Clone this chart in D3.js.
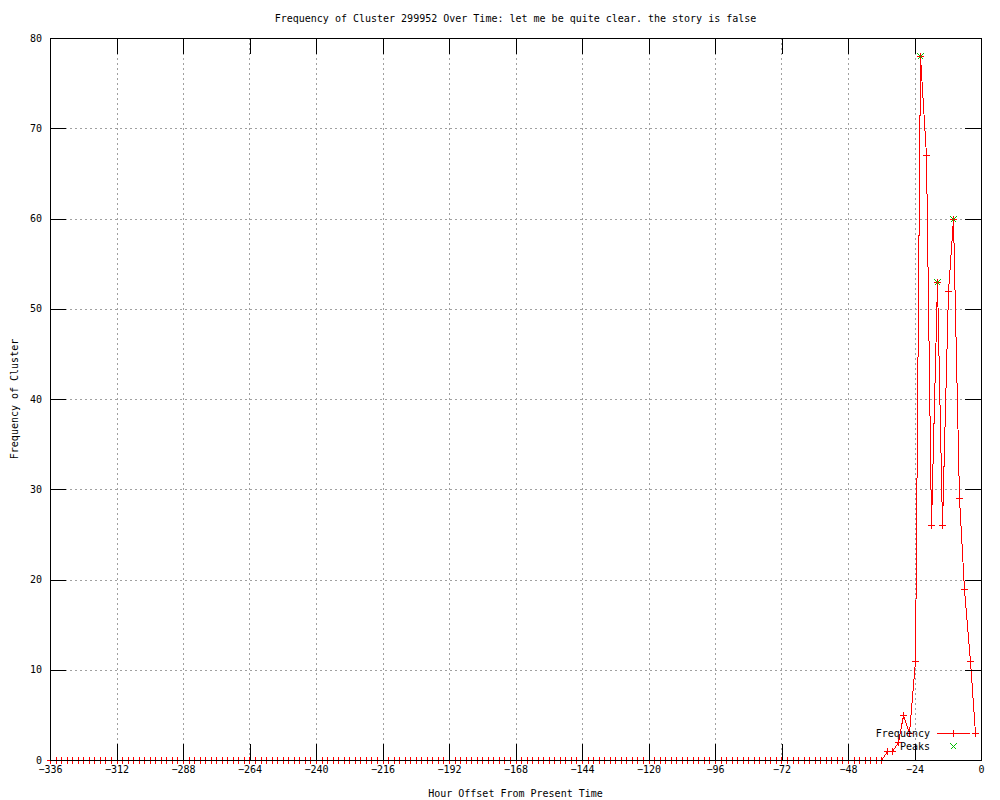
<!DOCTYPE html>
<html>
<head>
<meta charset="utf-8">
<script src="https://cdn.jsdelivr.net/npm/d3@7"></script>
<style>
  html, body { margin: 0; padding: 0; background: #ffffff; }
  svg { display: block; }
  text { font-family: "DejaVu Sans Mono", monospace; font-size: 10px; fill: #000; }
</style>
</head>
<body>
<svg id="chart" width="1000" height="800"></svg>
<script>
// ---- Data ----
const titleText = "Frequency of Cluster 299952 Over Time: let me be quite clear. the story is false";
const xLabelText = "Hour Offset From Present Time";
const yLabelText = "Frequency of Cluster";
const legendLabels = ["Frequency", "Peaks"];

const hours = [
  -336, -334, -332, -330, -328, -326, -324, -322, -320, -318, -316, -314, -312, -310, -308, -306, -304, -302, -300, -298,
  -296, -294, -292, -290, -288, -286, -284, -282, -280, -278, -276, -274, -272, -270, -268, -266, -264, -262, -260, -258,
  -256, -254, -252, -250, -248, -246, -244, -242, -240, -238, -236, -234, -232, -230, -228, -226, -224, -222, -220, -218,
  -216, -214, -212, -210, -208, -206, -204, -202, -200, -198, -196, -194, -192, -190, -188, -186, -184, -182, -180, -178,
  -176, -174, -172, -170, -168, -166, -164, -162, -160, -158, -156, -154, -152, -150, -148, -146, -144, -142, -140, -138,
  -136, -134, -132, -130, -128, -126, -124, -122, -120, -118, -116, -114, -112, -110, -108, -106, -104, -102, -100, -98,
  -96, -94, -92, -90, -88, -86, -84, -82, -80, -78, -76, -74, -72, -70, -68, -66, -64, -62, -60, -58,
  -56, -54, -52, -50, -48, -46, -44, -42, -40, -38, -36, -34, -32, -30, -28, -26, -24, -22, -20, -18,
  -16, -14, -12, -10, -8, -6, -4, -2
];
const counts = [
  0, 0, 0, 0, 0, 0, 0, 0, 0, 0, 0, 0, 0, 0, 0, 0, 0, 0, 0, 0,
  0, 0, 0, 0, 0, 0, 0, 0, 0, 0, 0, 0, 0, 0, 0, 0, 0, 0, 0, 0,
  0, 0, 0, 0, 0, 0, 0, 0, 0, 0, 0, 0, 0, 0, 0, 0, 0, 0, 0, 0,
  0, 0, 0, 0, 0, 0, 0, 0, 0, 0, 0, 0, 0, 0, 0, 0, 0, 0, 0, 0,
  0, 0, 0, 0, 0, 0, 0, 0, 0, 0, 0, 0, 0, 0, 0, 0, 0, 0, 0, 0,
  0, 0, 0, 0, 0, 0, 0, 0, 0, 0, 0, 0, 0, 0, 0, 0, 0, 0, 0, 0,
  0, 0, 0, 0, 0, 0, 0, 0, 0, 0, 0, 0, 0, 0, 0, 0, 0, 0, 0, 0,
  0, 0, 0, 0, 0, 0, 0, 0, 0, 0, 0, 1, 1, 2, 5, 3, 11, 78, 67, 26,
  53, 26, 52, 60, 29, 19, 11, 3
];
const peakHours = [-22, -16, -10];
const peakValues = [78, 53, 60];

const xTicks = [-336, -312, -288, -264, -240, -216, -192, -168, -144, -120, -96, -72, -48, -24, 0];
const yTicks = [0, 10, 20, 30, 40, 50, 60, 70, 80];

// ---- Layout ----
const plot = { left: 50, right: 981, top: 38, bottom: 760 };
const tickLen = 16;
const lineColor = "#ff0000";
const peakColor = "#00c000";
const gridColor = "#a0a0a0";

const svg = d3.select("#chart");
const x = d3.scaleLinear().domain([-336, 0]).range([plot.left, plot.right]);
const y = d3.scaleLinear().domain([0, 80]).range([plot.bottom, plot.top]);
const snap = v => Math.round(v) + 0.5;

// grid
const grid = svg.append("g").attr("shape-rendering", "crispEdges")
  .attr("stroke", gridColor).attr("stroke-width", 1).attr("stroke-dasharray", "2,3");
grid.selectAll("line.gx").data(xTicks.filter(t => t > -336 && t < 0)).enter().append("line")
  .attr("x1", d => snap(x(d))).attr("x2", d => snap(x(d)))
  .attr("y1", plot.top).attr("y2", plot.bottom);
grid.selectAll("line.gy").data(yTicks.filter(t => t > 0 && t < 80)).enter().append("line")
  .attr("y1", d => snap(y(d))).attr("y2", d => snap(y(d)))
  .attr("x1", plot.left).attr("x2", plot.right);

// data
const pts = hours.map((h, i) => ({ h: h, v: counts[i] }));
const line = d3.line().x(d => snap(x(d.h))).y(d => snap(y(d.v)));
svg.append("path").datum(pts).attr("d", line)
  .attr("fill", "none").attr("stroke", lineColor).attr("stroke-width", 1)
  .attr("shape-rendering", "crispEdges");

const ps = 3;
function plusPath(cx, cy) {
  return `M${cx - ps - 0.5},${cy}H${cx + ps + 0.5}M${cx},${cy - ps - 0.5}V${cy + ps + 0.5}`;
}
function crossPath(cx, cy) {
  const s = 3;
  return `M${cx - s},${cy - s}L${cx + s},${cy + s}M${cx - s},${cy + s}L${cx + s},${cy - s}`;
}
svg.append("g").attr("class", "markers").selectAll("path").data(pts).enter().append("path")
  .attr("d", d => plusPath(snap(x(d.h)), snap(y(d.v))))
  .attr("stroke", lineColor).attr("stroke-width", 1).attr("fill", "none")
  .attr("shape-rendering", "crispEdges");

const peaks = peakHours.map((h, i) => ({ h: h, v: peakValues[i] }));
svg.append("g").attr("class", "peaks").selectAll("path").data(peaks).enter().append("path")
  .attr("d", d => crossPath(snap(x(d.h)), snap(y(d.v))))
  .attr("stroke", peakColor).attr("stroke-width", 1).attr("fill", "none")
  .attr("shape-rendering", "crispEdges");

// border + ticks via d3 axes
const axG = svg.append("g").attr("shape-rendering", "crispEdges");
const xAxisB = d3.axisBottom(x).tickValues(xTicks).tickSizeInner(-tickLen).tickSizeOuter(0).tickFormat(d3.format("d"));
const xAxisT = d3.axisTop(x).tickValues(xTicks).tickSizeInner(-tickLen).tickSizeOuter(0).tickFormat("");
const yAxisL = d3.axisLeft(y).tickValues(yTicks).tickSizeInner(-tickLen).tickSizeOuter(0).tickFormat(d3.format("d"));
const yAxisR = d3.axisRight(y).tickValues(yTicks).tickSizeInner(-tickLen).tickSizeOuter(0).tickFormat("");

function styleAxis(g) {
  g.selectAll("path.domain").attr("stroke", "#000").attr("stroke-width", 1);
  g.selectAll(".tick line").attr("stroke", "#000").attr("stroke-width", 1);
  g.selectAll(".tick text").attr("fill", "#000");
}
const gxb = axG.append("g").attr("transform", `translate(0,${plot.bottom})`).call(xAxisB).call(styleAxis);
gxb.selectAll(".tick text").attr("y", 6).attr("dy", "0.71em")
  .text(d => d < 0 ? "\u2212" + Math.abs(d) : String(d));
axG.append("g").attr("transform", `translate(0,${plot.top})`).call(xAxisT).call(styleAxis);
const gyl = axG.append("g").attr("transform", `translate(${plot.left},0)`).call(yAxisL).call(styleAxis);
gyl.selectAll(".tick text").attr("x", -8);
axG.append("g").attr("transform", `translate(${plot.right},0)`).call(yAxisR).call(styleAxis);
axG.selectAll("text").style("font-family", "DejaVu Sans Mono, monospace").style("font-size", "10px");

// titles
svg.append("text").attr("x", (plot.left + plot.right) / 2).attr("y", 22)
  .attr("text-anchor", "middle").text(titleText);
svg.append("text").attr("x", (plot.left + plot.right) / 2).attr("y", 797)
  .attr("text-anchor", "middle").text(xLabelText);
svg.append("text").attr("transform", `translate(18,${(plot.top + plot.bottom) / 2}) rotate(-90)`)
  .attr("text-anchor", "middle").text(yLabelText);

// legend
const legX = 930, legY1 = 733, legY2 = 746;
const leg = svg.append("g").attr("class", "legend");
leg.append("text").attr("x", legX).attr("y", legY1).attr("dy", "0.35em").attr("text-anchor", "end").text(legendLabels[0]);
leg.append("text").attr("x", legX).attr("y", legY2).attr("dy", "0.35em").attr("text-anchor", "end").text(legendLabels[1]);
leg.append("line").attr("x1", 937).attr("x2", 970).attr("y1", legY1 + 0.5).attr("y2", legY1 + 0.5)
  .attr("stroke", lineColor).attr("stroke-width", 1).attr("shape-rendering", "crispEdges");
leg.append("path").attr("d", plusPath(953.5, legY1 + 0.5)).attr("stroke", lineColor).attr("fill", "none")
  .attr("shape-rendering", "crispEdges");
leg.append("path").attr("d", crossPath(953.5, legY2 + 0.5)).attr("stroke", peakColor).attr("fill", "none")
  .attr("shape-rendering", "crispEdges");
</script>
</body>
</html>
